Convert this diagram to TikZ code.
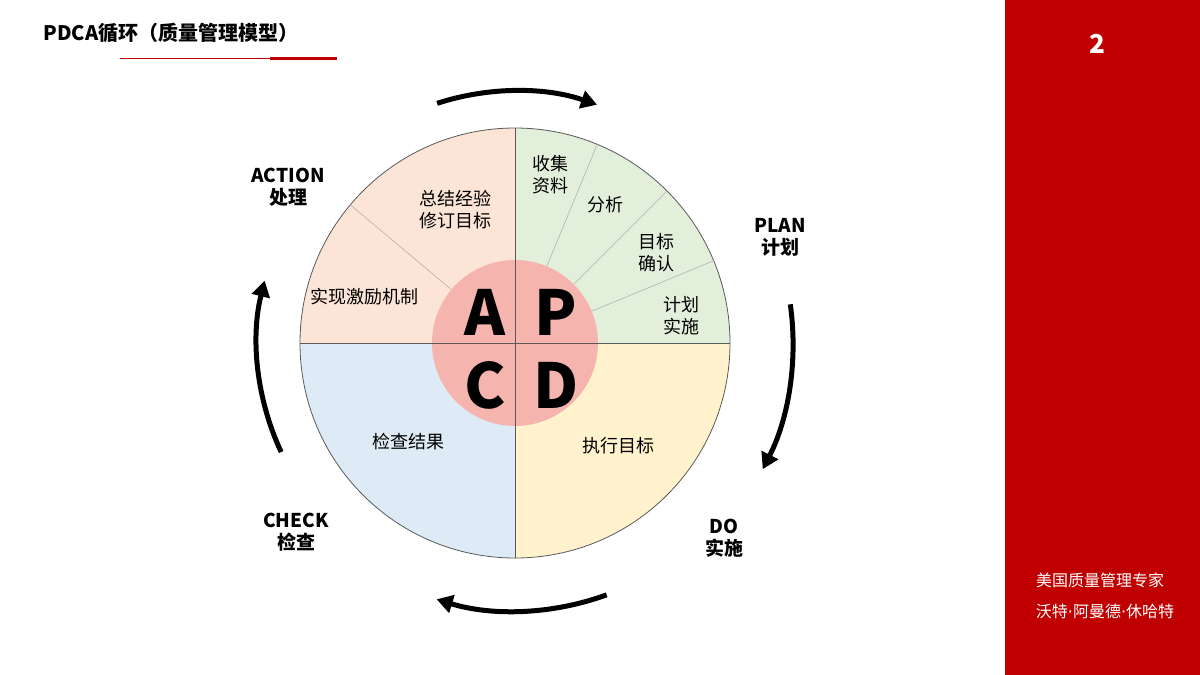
\documentclass[tikz,border=0pt]{standalone}
\usepackage{fontspec}
\setmainfont{Noto Sans CJK SC}
\newfontfamily\dotf{DejaVu Sans}
\usetikzlibrary{arrows.meta,calc}
\definecolor{pg}{HTML}{E2EFDA}
\definecolor{py}{HTML}{FFF2CC}
\definecolor{pb}{HTML}{DEEBF7}
\definecolor{pp}{HTML}{FCE4D6}
\definecolor{pk}{HTML}{F6B4AE}
\definecolor{rd}{HTML}{C00000}
\tikzset{sec/.style={font=\fontsize{18}{22}\selectfont,align=center},
lab/.style={font=\fontsize{19}{22}\selectfont\bfseries,align=center},
big/.style={font=\fontsize{62}{62}\selectfont\bfseries},
cyc/.style={line width=5pt,-{Triangle[length=16pt,width=18pt]}}}
\begin{document}
\begin{tikzpicture}[x=1pt,y=-1pt]
\useasboundingbox (0,0) rectangle (1200,675);
\fill[white] (0,0) rectangle (1200,675);
\fill[rd] (1005,0) rectangle (1200,675);
\node[text=white,font=\fontsize{26}{26}\selectfont\bfseries] (pg) at (1097,44) {2};
\node[text=white,font=\fontsize{16}{20}\selectfont] (a1) at (1100,580) {美国质量管理专家};
\node[text=white,font=\fontsize{16}{20}\selectfont] (a2) at (1105,611) {沃特{\dotf·}阿曼德{\dotf·}休哈特};
\node[anchor=west,font=\fontsize{20}{24}\selectfont\bfseries] (t) at (40,33) {PDCA循环（质量管理模型）};
\draw[rd,line width=0.6pt] (120,58) -- (337,58);
\draw[rd,line width=3pt] (270,58) -- (337,58);
\coordinate (O) at (515,343);
\fill[pg] (O) -- (515,128) arc[start angle=90,end angle=0,x radius=215,y radius=-215] -- cycle;
\fill[py] (O) -- (730,343) arc[start angle=0,end angle=-90,x radius=215,y radius=-215] -- cycle;
\fill[pb] (O) -- (515,558) arc[start angle=-90,end angle=-180,x radius=215,y radius=-215] -- cycle;
\fill[pp] (O) -- (300,343) arc[start angle=180,end angle=90,x radius=215,y radius=-215] -- cycle;
\draw[gray!70!black,line width=0.8pt] (O) circle[radius=215];
\draw[gray!70!black,line width=0.8pt] (515,128) -- (515,558) (300,343) -- (730,343);
\foreach \a in {67.5,45,22.5,140}
  \draw[gray!60,line width=0.6pt] ($(O)+(-\a:83)$) -- ($(O)+(-\a:215)$);
\fill[pk] (O) circle[radius=83];
\draw[gray!70!black,line width=0.6pt] (515,260) -- (515,426) (432,343) -- (598,343);
\node[big] (A) at (485,312) {A};
\node[big] (P) at (556,312) {P};
\node[big] (C) at (485,385) {C};
\node[big] (D) at (556,385) {D};
\node[sec] (s1) at (550,175) {收集\\资料};
\node[sec] (s2) at (605,205) {分析};
\node[sec] (s3) at (656,253) {目标\\确认};
\node[sec] (s4) at (681,316) {计划\\实施};
\node[sec] (s5) at (455,210) {总结经验\\修订目标};
\node[sec] (s6) at (364,297) {实现激励机制};
\node[sec] (s7) at (408,442) {检查结果};
\node[sec] (s8) at (618,446) {执行目标};
\node[lab] (la) at (288,187) {ACTION\\处理};
\node[lab] (lp) at (780,237) {PLAN\\计划};
\node[lab] (ld) at (724,538) {DO\\实施};
\node[lab] (lc) at (296,532) {CHECK\\检查};
\draw[cyc] ($(O)+(-108:252)$) arc[start angle=108,end angle=71,x radius=252,y radius=-252];
\draw[cyc] ($(O)+(-8:278)$) arc[start angle=8,end angle=-27,x radius=278,y radius=-278];
\draw[cyc] ($(O)+(70:268)$) arc[start angle=-70,end angle=-107,x radius=268,y radius=-268];
\draw[cyc] ($(O)+(-205:258)$) arc[start angle=205,end angle=166,x radius=258,y radius=-258];
\end{tikzpicture}
\end{document}
